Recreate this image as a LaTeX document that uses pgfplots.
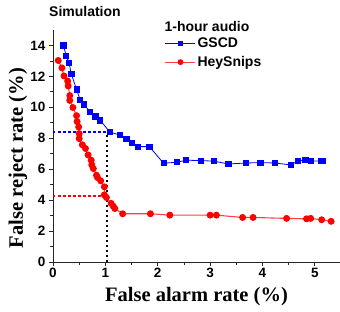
\documentclass[border=0pt]{standalone}
\usepackage{pgfplots}
\pgfplotsset{compat=1.18}
\usepackage{fontspec}
\setmainfont{Liberation Sans}
\newfontfamily\timesfont{Liberation Serif}
\definecolor{pblue}{RGB}{0,0,255}
\definecolor{pred}{RGB}{255,0,0}
\begin{document}
\begin{tikzpicture}
\begin{axis}[
 scale only axis, width=287pt, height=232pt,
 xmin=0, xmax=5.48, ymin=0, ymax=15,
 axis x line*=bottom, axis y line*=left,
 axis line style={line width=0.8pt, black!85, -},
 xtick={0,1,2,3,4,5}, ytick={0,2,4,6,8,10,12,14},
 minor x tick num=1, minor y tick num=1,
 tick align=outside, major tick length=4pt, minor tick length=2.5pt,
 every tick/.style={line width=0.8pt, black!85},
 /pgf/number format/assume math mode=true,
 tick label style={font=\fontsize{13.5}{15}\selectfont\bfseries},
 xticklabel style={yshift=1pt},
 xlabel={False alarm rate (\%)}, ylabel={False reject rate (\%)},
 label style={font=\fontsize{20.5}{22}\selectfont\timesfont\bfseries},
 xlabel style={at={(axis description cs:0.5,-0.147)}, anchor=center},
 ylabel style={at={(axis description cs:-0.122,0.448)}, anchor=center},
 clip=false,
 legend style={at={(axis description cs:0.39,0.974)}, anchor=north west, draw=none, fill=none,
   inner sep=0pt, outer sep=0pt, row sep=4.5pt,
   font=\fontsize{14}{16}\selectfont\bfseries,
   nodes={inner sep=1.5pt}},
 legend cell align=left,
 legend image code/.code={\draw[mark repeat=2,mark phase=2, /tikz/every mark/.append style={scale=0.8}] plot coordinates {(0pt,0pt) (15pt,0pt) (30pt,0pt)};},
]
\addplot[color=black, line width=2pt, dash pattern=on 2pt off 3pt, forget plot] coordinates {(1.03,0) (1.03,8.3)};
\addplot[color=pred, line width=1.4pt, dash pattern=on 2.5pt off 2.5pt, forget plot] coordinates {(0,4.27) (1.0,4.27)};
\addplot[color=pblue, line width=1.4pt, dash pattern=on 2.5pt off 2.5pt, forget plot] coordinates {(0,8.4) (1.05,8.4)};
\addplot[pblue, line width=0.8pt, mark=square*, mark size=2.6pt, mark options={solid, fill=pblue, draw=pblue}] coordinates {
(0.20,14.0) (0.25,13.35) (0.305,12.88) (0.35,12.15) (0.45,11.16) (0.52,10.47) (0.59,10.19) (0.71,9.7) (0.81,9.42) (0.90,9.16) (1.09,8.39) (1.28,8.21) (1.40,7.97) (1.51,7.72) (1.62,7.46) (1.84,7.46) (2.11,6.39) (2.37,6.45) (2.54,6.58) (2.82,6.56) (3.07,6.52) (3.35,6.34) (3.69,6.4) (3.96,6.43) (4.24,6.4) (4.54,6.28) (4.68,6.54) (4.82,6.58) (4.92,6.52) (5.11,6.54) (5.16,6.54)
};
\addlegendentry{GSCD}
\addplot[pred!75!white, line width=1.1pt, mark=*, mark size=2.9pt, mark options={solid, fill=pred, draw=pred}] coordinates {
(0.10,13.03) (0.17,12.55) (0.21,12.03) (0.28,11.7) (0.29,11.38) (0.32,10.76) (0.32,10.45) (0.38,9.99) (0.45,9.46) (0.46,9.08) (0.49,8.73) (0.50,8.3) (0.50,7.98) (0.56,7.58) (0.62,7.34) (0.67,6.92) (0.73,6.58) (0.74,6.28) (0.77,6.04) (0.83,5.61) (0.85,5.46) (0.91,5.25) (0.98,4.86) (0.98,4.34) (1.02,4.17) (1.11,3.79) (1.15,3.61) (1.18,3.46) (1.33,3.12) (1.86,3.12) (2.23,3.03) (3.0,3.03) (3.12,3.03) (3.62,2.88) (3.82,2.88) (4.46,2.82) (4.84,2.79) (4.92,2.82) (5.13,2.73) (5.31,2.63)
};
\addlegendentry{HeySnips}
\node[anchor=west, inner sep=0pt, font=\fontsize{14}{16}\selectfont\bfseries] at (axis description cs:0.388,1.014) {1-hour audio};
\node[anchor=west, inner sep=0pt, font=\fontsize{14}{16}\selectfont\bfseries] at (axis description cs:-0.014,1.078) {Simulation};
\end{axis}
\pgfresetboundingbox
\path (-53pt,-49pt) rectangle (287pt,262pt);
\end{tikzpicture}
\end{document}
